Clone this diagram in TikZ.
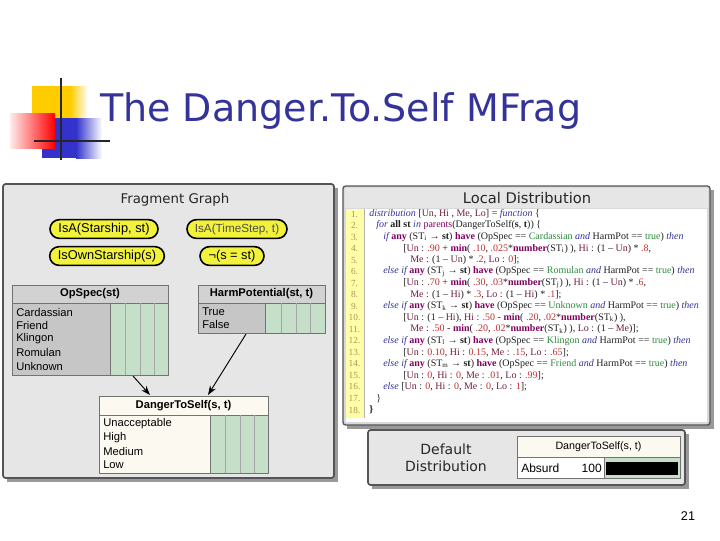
\documentclass[tikz,border=0pt]{standalone}
\usepackage{fontspec}
\setmainfont{Liberation Sans}
\newfontfamily\codefont{Liberation Serif}
\newfontfamily\titlefont{DejaVu Sans}
\usetikzlibrary{arrows.meta}
\definecolor{titleblue}{HTML}{333399}
\definecolor{panelgray}{HTML}{E6E6E6}
\definecolor{bordergray}{HTML}{555555}
\definecolor{hdrgray}{HTML}{D2D2D2}
\definecolor{lblgray}{HTML}{C6C6C6}
\definecolor{cellgreen}{HTML}{C6DFC8}
\definecolor{cream}{HTML}{FCF9F0}
\definecolor{nodeyellow}{HTML}{F2F23C}
\definecolor{numyellow}{HTML}{FFFFA8}
\definecolor{numbrown}{HTML}{B09060}
\definecolor{kwblue}{HTML}{333399}
\definecolor{fnpurple}{HTML}{800060}
\definecolor{numred}{HTML}{C03030}
\definecolor{varred}{HTML}{702040}
\definecolor{valgreen}{HTML}{2E8B3E}
\definecolor{codeink}{HTML}{202020}
\definecolor{decoyellow}{HTML}{FFCC00}
\definecolor{decoblue}{HTML}{3333CC}
\newcommand\ckw[1]{\textcolor{kwblue}{\itshape #1}}
\newcommand\cfn[1]{\textcolor{fnpurple}{\bfseries #1}}
\newcommand\cnum[1]{\textcolor{numred}{#1}}
\newcommand\cvar[1]{\textcolor{varred}{#1}}
\newcommand\cval[1]{\textcolor{valgreen}{#1}}
\tikzset{
  ynode/.style={draw=black, line width=1.2pt, fill=nodeyellow, rounded corners=7pt,
    inner sep=1pt, minimum height=14pt, font=\fontsize{9.6}{11}\selectfont},
  ptitle/.style={font=\titlefont\fontsize{10}{12}\selectfont, text=black!85},
  hdrtext/.style={font=\bfseries\fontsize{8.4}{10}\selectfont},
  rowtext/.style={anchor=west, font=\fontsize{8.4}{10}\selectfont, inner sep=0pt},
  cell/.style={draw=black!55, line width=0.5pt},
  codeline/.style={anchor=west, inner sep=0pt, text=codeink, font=\codefont\fontsize{7.5}{8.5}\selectfont},
  lnum/.style={inner sep=0pt, text=numbrown, font=\codefont\fontsize{7}{8}\selectfont},
  link/.style={-{Stealth[length=7pt,width=5pt]}, line width=0.7pt, black}
}
\begin{document}
\begin{tikzpicture}[x=0.75pt,y=-0.75pt]
\useasboundingbox (0,0) rectangle (720,540);
\fill[white] (0,0) rectangle (720,540);

% decoration
\fill[decoyellow] (32,86) rectangle (70,118);
\shade[left color=decoyellow, right color=white] (70,86) rectangle (88,118);
\fill[decoblue] (42,118) rectangle (76,158);
\shade[left color=decoblue, right color=white] (76,118) rectangle (102,158);
\shade[left color=red!8, right color=red] (10,113) rectangle (55,148);
\draw[black!85, line width=2.2pt] (61,78) -- (61,160);
\draw[black!85, line width=2pt] (34,141) -- (110,141);

% title
\node[anchor=base west, inner sep=0pt, text=titleblue, font=\titlefont\fontsize{28.5}{32}\selectfont] (title) at (100,121) {The Danger.To.Self MFrag};

% ---------- Fragment Graph panel ----------
\fill[black!40] (7,188) rectangle (338,482);
\draw[bordergray, line width=1.3pt, fill=panelgray, rounded corners=2pt] (3,184) rectangle (334,478);
\node[ptitle] (fgtitle) at (175,200) {Fragment Graph};

\node[ynode, minimum width=81pt] (isast) at (104,229) {IsA(Starship, st)};
\node[ynode, minimum width=75pt, inner xsep=3pt, text=black!70, font=\fontsize{8.8}{10}\selectfont] (isat) at (237,229) {IsA(TimeStep, t)};
\node[ynode, minimum width=86pt] (isown) at (107,256) {IsOwnStarship(s)};
\node[ynode, minimum width=48pt] (noteq) at (232,256) {¬(s = st)};

% OpSpec table
\draw[cell, fill=hdrgray] (12,285) rectangle (168,303);
\node[hdrtext] (opshdr) at (90,294) {OpSpec(st)};
\draw[cell, fill=lblgray] (12,303) rectangle (110,375);
\draw[cell, fill=cellgreen] (110,303) rectangle (168,375);
\foreach \x in {125,140,154} \draw[black!35, line width=0.4pt] (\x,303) -- (\x,375);
\node[rowtext] (ops1) at (16,312) {Cardassian};
\node[rowtext] (ops2) at (16,325.5) {Friend};
\node[rowtext] (ops3) at (16,339) {Klingon};
\node[rowtext] (ops4) at (16,352.5) {Romulan};
\node[rowtext] (ops5) at (16,366) {Unknown};
\coordinate (opsout) at (133,376);

% HarmPotential table
\draw[cell, fill=hdrgray] (198,285) rectangle (325,303);
\node[hdrtext] (hphdr) at (261.5,294) {HarmPotential(st, t)};
\draw[cell, fill=lblgray] (198,303) rectangle (265,333);
\draw[cell, fill=cellgreen] (265,303) rectangle (325,333);
\foreach \x in {281,296,310} \draw[black!35, line width=0.4pt] (\x,303) -- (\x,333);
\node[rowtext] (hp1) at (202,311.5) {True};
\node[rowtext] (hp2) at (202,324.5) {False};
\coordinate (hpout) at (246,334);

% DangerToSelf table
\draw[cell, fill=cream] (99,396) rectangle (268,415);
\node[hdrtext] (dtshdr) at (183.5,405.5) {DangerToSelf(s, t)};
\draw[cell, fill=cream] (99,415) rectangle (210,473);
\draw[cell, fill=cellgreen] (210,415) rectangle (268,473);
\foreach \x in {225,240,254} \draw[black!35, line width=0.4pt] (\x,415) -- (\x,473);
\node[rowtext] (dts1) at (103,423.5) {Unacceptable};
\node[rowtext] (dts2) at (103,437.5) {High};
\node[rowtext] (dts3) at (103,451) {Medium};
\node[rowtext] (dts4) at (103,464.5) {Low};
\coordinate (dtsin1) at (150,395);
\coordinate (dtsin2) at (208,395);

\draw[link] (opsout) -- (dtsin1);
\draw[link] (hpout) -- (dtsin2);

% ---------- Local Distribution panel ----------
\fill[black!40] (347,190) rectangle (714,429);
\draw[bordergray, line width=1pt, fill=black!15, rounded corners=2pt] (343,186) rectangle (710,425);
\fill[panelgray] (345,188) rectangle (708,208);
\fill[white] (346,209) rectangle (707,422);
\node[ptitle, font=\titlefont\fontsize{11}{13}\selectfont] (ldtitle) at (527,198) {Local Distribution};
\fill[numyellow] (346,209) rectangle (364,418);
\draw[black!30, line width=0.4pt] (364,209) -- (364,418);
\foreach \n in {1,...,18} \node[lnum] (ln\n) at (354.5,{214+(\n-1)*11.53}) {\n.};

\node[codeline] (c1) at (369,214) {\ckw{distribution} [\cvar{Un}, \cvar{Hi} , \cvar{Me}, \cvar{Lo}] = \ckw{function} \{};
\node[codeline] (c2) at (376,225.5) {\ckw{for} \textbf{all st} \ckw{in} \textcolor{fnpurple}{parents}(DangerToSelf(\textbf{s}, \textbf{t})) \{};
\node[codeline] (c3) at (383,237.1) {\ckw{if} \cfn{any} (ST\textsubscript{i} → \textbf{st}) \cfn{have} (OpSpec == \cval{Cardassian} \ckw{and} HarmPot == \cval{true}) \ckw{then}};
\node[codeline] (c4) at (403,248.6) {[\cvar{Un} : \cnum{.90} + \cfn{min}( \cnum{.10}, \cnum{.025}*\cfn{number}(ST\textsubscript{i}) ), \cvar{Hi} : (1 – \cvar{Un}) * \cnum{.8},};
\node[codeline] (c5) at (410,260.1) {\cvar{Me} : (1 – \cvar{Un}) * \cnum{.2}, \cvar{Lo} : \cnum{0}];};
\node[codeline] (c6) at (383,271.7) {\ckw{else if} \cfn{any} (ST\textsubscript{j} → \textbf{st}) \cfn{have} (OpSpec == \cval{Romulan} \ckw{and} HarmPot == \cval{true}) \ckw{then}};
\node[codeline] (c7) at (403,283.2) {[\cvar{Un} : \cnum{.70} + \cfn{min}( \cnum{.30}, \cnum{.03}*\cfn{number}(ST\textsubscript{j}) ), \cvar{Hi} : (1 – \cvar{Un}) * \cnum{.6},};
\node[codeline] (c8) at (410,294.7) {\cvar{Me} : (1 – \cvar{Hi}) * \cnum{.3}, \cvar{Lo} : (1 – \cvar{Hi}) * \cnum{.1}];};
\node[codeline] (c9) at (383,306.2) {\ckw{else if} \cfn{any} (ST\textsubscript{k} → \textbf{st}) \cfn{have} (OpSpec == \cval{Unknown} \ckw{and} HarmPot == \cval{true}) \ckw{then}};
\node[codeline] (c10) at (403,317.8) {[\cvar{Un} : (1 – \cvar{Hi}), \cvar{Hi} : \cnum{.50} - \cfn{min}( \cnum{.20}, \cnum{.02}*\cfn{number}(ST\textsubscript{k}) ),};
\node[codeline] (c11) at (410,329.3) {\cvar{Me} : \cnum{.50} - \cfn{min}( \cnum{.20}, \cnum{.02}*\cfn{number}(ST\textsubscript{k}) ), \cvar{Lo} : (1 – \cvar{Me})];};
\node[codeline] (c12) at (383,340.8) {\ckw{else if} \cfn{any} (ST\textsubscript{l} → \textbf{st}) \cfn{have} (OpSpec == \cval{Klingon} \ckw{and} HarmPot == \cval{true}) \ckw{then}};
\node[codeline] (c13) at (403,352.4) {[\cvar{Un} : \cnum{0.10}, \cvar{Hi} : \cnum{0.15}, \cvar{Me} : \cnum{.15}, \cvar{Lo} : \cnum{.65}];};
\node[codeline] (c14) at (383,363.9) {\ckw{else if} \cfn{any} (ST\textsubscript{m} → \textbf{st}) \cfn{have} (OpSpec == \cval{Friend} \ckw{and} HarmPot == \cval{true}) \ckw{then}};
\node[codeline] (c15) at (403,375.4) {[\cvar{Un} : \cnum{0}, \cvar{Hi} : \cnum{0}, \cvar{Me} : \cnum{.01}, \cvar{Lo} : \cnum{.99}];};
\node[codeline] (c16) at (383,387.0) {\ckw{else} [\cvar{Un} : \cnum{0}, \cvar{Hi} : \cnum{0}, \cvar{Me} : \cnum{0}, \cvar{Lo} : \cnum{1}];};
\node[codeline] (c17) at (376,398.5) {\}};
\node[codeline] (c18) at (369,410) {\textbf{\}}};

% ---------- Default Distribution panel ----------
\fill[black!40] (372,434) rectangle (689,489);
\draw[bordergray, line width=1.3pt, fill=panelgray, rounded corners=2pt] (368,430) rectangle (685,485);
\node[ptitle, align=center, font=\titlefont\fontsize{10.5}{13}\selectfont] (ddtitle) at (446,458) {Default\\Distribution};
\draw[cell, fill=cream] (517,436) rectangle (680,457);
\node[font=\fontsize{8}{10}\selectfont] (ddhdr) at (598.5,446.5) {DangerToSelf(s, t)};
\draw[cell, fill=white] (517,457) rectangle (680,478);
\node[rowtext, font=\fontsize{9}{11}\selectfont] (absurd) at (521,468) {Absurd};
\node[anchor=east, inner sep=0pt, font=\fontsize{9}{11}\selectfont] (hundred) at (602,468) {100};
\draw[cell, fill=cellgreen] (604,457) rectangle (680,478);
\fill[black] (606,462) rectangle (678,475);

% page number
\node[font=\fontsize{9.5}{11}\selectfont] (pagenum) at (688,516) {21};
\end{tikzpicture}
\end{document}
